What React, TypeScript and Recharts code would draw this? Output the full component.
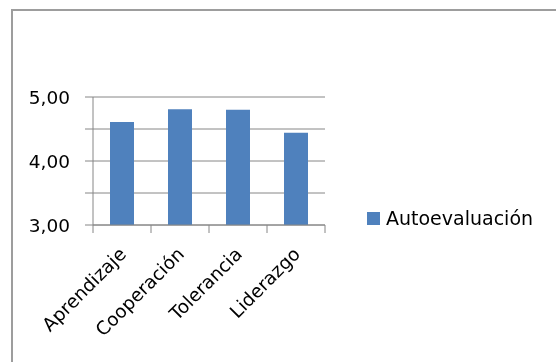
import { BarChart, Bar, XAxis, YAxis, CartesianGrid, Legend } from 'recharts';

const categories = ['Aprendizaje', 'Cooperación', 'Tolerancia', 'Liderazgo'];
const autoevaluacion = [4.61, 4.81, 4.8, 4.44];
const yTicks = [3, 3.5, 4, 4.5, 5];
const seriesName = 'Autoevaluación';

const data = categories.map((name, i) => ({ name, value: autoevaluacion[i] }));

const FONT = '"DejaVu Sans", Verdana, sans-serif';
const GRAY = '#868686';
const BLUE = '#4F81BD';

// only whole values get a label, the half steps keep their tick and gridline
const fmtY = (v: number) => (Number.isInteger(v) ? v.toFixed(2).replace('.', ',') : '');

// category tick: short marks on the band edges plus a label turned 45 degrees
const CategoryTick = (props: any) => {
  const { x, y, payload, index, visibleTicksCount } = props;
  const half = payload.offset ?? 0;
  const isLast = index === visibleTicksCount - 1;
  const lx = x - 4;
  const ly = y + 21;
  return (
    <g>
      <line x1={x - half} x2={x - half} y1={y} y2={y + 8} stroke={GRAY} />
      {isLast && <line x1={x + half} x2={x + half} y1={y} y2={y + 8} stroke={GRAY} />}
      <text
        x={lx} y={ly} dy="0.71em" textAnchor="end" transform={`rotate(-45, ${lx}, ${ly})`}
        fontFamily={FONT} fontSize={18.5} fill="#000"
      >
        {payload.value}
      </text>
    </g>
  );
};

const LegendBox = () => (
  <div style={{ display: 'flex', alignItems: 'center', fontFamily: FONT, fontSize: 19, color: '#000' }}>
    <span style={{ display: 'inline-block', width: 13, height: 13, background: BLUE, marginRight: 6 }} />
    {seriesName}
  </div>
);

export default function App() {
  return (
    <>
      <div
        style={{
          position: 'fixed', left: 11, top: 9, width: 545, height: 353,
          borderTop: '2px solid #9d9d9d', borderLeft: '2px solid #9d9d9d', boxSizing: 'border-box',
        }}
      />
      <div style={{ position: 'fixed', left: 0, top: 0 }}>
        <BarChart width={556} height={362} data={data} margin={{ top: 97, right: 41, left: 0, bottom: 19 }}>
          <CartesianGrid vertical={false} stroke={GRAY} />
          <XAxis
            dataKey="name" interval={0} tickLine={false} tickSize={0} tickMargin={0} height={118}
            stroke={GRAY} tick={<CategoryTick />}
          />
          <YAxis
            domain={[3, 5]} ticks={yTicks} tickFormatter={fmtY} width={93}
            tickSize={8} tickMargin={15} stroke={GRAY}
            tick={{ fontFamily: FONT, fontSize: 18.5, fill: '#000' }}
          />
          <Legend
            layout="vertical" align="right" verticalAlign="middle" content={<LegendBox />}
            wrapperStyle={{ width: 190, left: 367, top: 207 }}
          />
          <Bar dataKey="value" name={seriesName} fill={BLUE} barSize={24} isAnimationActive={false} />
        </BarChart>
      </div>
    </>
  );
}
